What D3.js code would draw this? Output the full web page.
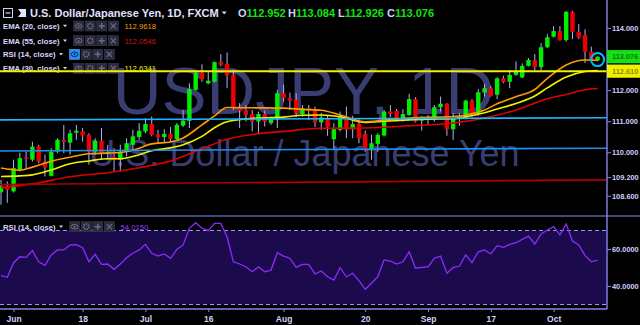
<!DOCTYPE html>
<html>
<head>
<meta charset="utf-8">
<script src="https://cdn.jsdelivr.net/npm/d3@7"></script>
<style>
    html, body { margin: 0; padding: 0; background: #000; }
    svg { display: block; }
    text { font-family: "Liberation Sans", Arial, sans-serif; }
</style>
</head>
<body>
<svg id="chart"></svg>
<script>
// ---- data (USD/JPY daily, FXCM) ----
const firstDay = new Date(2018, 4, 30);
const lastDay = new Date(2018, 9, 10);

const opens = [108.71, 108.87, 108.74, 109.43, 109.83, 109.76, 110.18, 109.70, 109.24, 110.02,
    110.40, 110.31, 110.63, 110.67, 110.56, 110.02, 110.37, 109.98, 109.86, 109.76,
    110.02, 110.24, 110.49, 110.67, 110.91, 110.58, 110.49, 110.59, 110.42, 110.86,
    111.01, 112.01, 112.56, 112.22, 112.27, 112.90, 112.84, 112.49, 111.42, 111.36,
    111.23, 110.99, 111.23, 110.94, 111.06, 111.90, 111.74, 111.69, 111.23, 111.42,
    111.39, 110.96, 111.10, 110.42, 110.72, 111.13, 110.74, 110.91, 110.59, 110.06,
    110.27, 110.54, 111.31, 111.33, 111.06, 111.20, 111.71, 111.02, 111.10, 111.04,
    111.45, 111.56, 110.74, 111.10, 111.10, 111.66, 111.23, 111.92, 112.06, 111.85,
    112.38, 112.27, 112.49, 112.41, 112.78, 112.97, 112.74, 113.38, 113.72, 113.90,
    113.61, 114.52, 113.88, 113.77, 113.24, 112.952];
const highs = [109.11, 109.06, 109.76, 109.98, 110.02, 110.34, 110.24, 109.92, 110.13, 110.45,
    110.88, 110.72, 110.88, 110.78, 110.61, 110.45, 110.78, 110.24, 110.13, 110.24,
    110.45, 110.72, 110.94, 111.10, 111.15, 110.72, 110.74, 110.81, 110.94, 111.36,
    112.22, 112.65, 112.83, 112.60, 112.92, 113.16, 113.21, 112.65, 111.58, 111.52,
    111.36, 111.31, 111.34, 111.15, 112.01, 112.17, 111.92, 111.90, 111.52, 111.52,
    111.47, 111.26, 111.20, 110.94, 111.31, 111.47, 111.17, 111.06, 110.70, 110.56,
    110.61, 111.36, 111.52, 111.39, 111.39, 111.88, 111.77, 111.17, 111.20, 111.52,
    111.79, 111.58, 111.26, 111.26, 111.69, 111.71, 112.03, 112.20, 112.14, 112.41,
    112.46, 112.65, 112.92, 112.86, 113.03, 113.16, 113.51, 113.80, 114.06, 114.06,
    114.55, 114.55, 114.13, 113.96, 113.40, 113.084];
const lows = [108.31, 108.37, 108.70, 109.38, 109.49, 109.70, 109.65, 109.22, 109.22, 109.97,
    109.97, 109.92, 110.40, 110.34, 109.60, 109.92, 109.76, 109.76, 109.38, 109.38,
    109.86, 110.08, 110.40, 110.61, 110.51, 110.29, 110.29, 110.34, 110.40, 110.81,
    110.78, 111.98, 112.27, 112.19, 112.25, 112.76, 112.06, 111.36, 110.78, 110.99,
    110.67, 110.61, 110.83, 110.88, 110.78, 111.63, 111.36, 111.13, 111.15, 111.04,
    110.81, 110.72, 110.53, 110.10, 110.67, 110.45, 110.45, 110.29, 110.02, 109.76,
    110.02, 110.51, 111.13, 110.99, 110.99, 111.17, 110.96, 110.70, 110.88, 110.99,
    111.31, 110.53, 110.40, 110.85, 111.06, 111.15, 111.17, 111.79, 111.79, 111.71,
    112.22, 112.06, 112.46, 112.38, 112.76, 112.63, 112.63, 113.35, 113.69, 113.59,
    113.56, 113.64, 113.64, 112.87, 112.88, 112.926];
const closes = [108.90, 108.79, 109.49, 109.81, 109.78, 110.18, 109.70, 109.51, 110.02, 110.40,
    110.33, 110.61, 110.69, 110.54, 110.02, 110.37, 109.97, 110.01, 109.76, 110.02,
    110.29, 110.51, 110.69, 110.91, 110.56, 110.49, 110.59, 110.43, 110.88, 111.02,
    112.03, 112.56, 112.35, 112.30, 112.90, 112.81, 112.47, 111.42, 111.34, 111.20,
    110.99, 111.23, 110.99, 111.07, 111.90, 111.74, 111.66, 111.26, 111.42, 111.34,
    110.96, 111.12, 110.81, 110.74, 111.13, 110.74, 110.91, 110.45, 110.06, 110.29,
    110.56, 111.31, 111.23, 111.07, 111.23, 111.71, 110.99, 111.06, 111.04, 111.45,
    111.56, 110.74, 111.10, 111.15, 111.66, 111.23, 111.93, 112.06, 111.81, 112.38,
    112.26, 112.49, 112.60, 112.78, 112.97, 112.74, 113.38, 113.70, 113.90, 113.61,
    114.52, 113.88, 113.70, 113.24, 112.97, 113.076];

// EMA values read at sample sessions (index into the session list)
const emaSampleIdx = [0, 3, 5, 8, 11, 14, 17, 19, 22, 24, 27, 29, 32, 34, 36, 40, 45,
    48, 51, 54, 58, 61, 65, 69, 72, 74, 77, 79, 82, 85, 87, 90, 93, 95];
const ema20 = [109.49, 109.42, 109.52, 109.71, 109.84, 109.95, 109.97, 109.99, 110.13, 110.27,
    110.33, 110.46, 110.88, 111.17, 111.44, 111.43, 111.42, 111.38, 111.35, 111.20,
    110.98, 111.03, 111.10, 111.13, 111.15, 111.20, 111.36, 111.56, 111.79, 112.02,
    112.38, 112.81, 112.97, 112.96];
const ema30 = [109.22, 109.24, 109.27, 109.43, 109.63, 109.72, 109.79, 109.79, 109.92, 110.05,
    110.14, 110.24, 110.51, 110.79, 110.98, 111.09, 111.13, 111.19, 111.20, 111.14,
    110.96, 111.00, 111.04, 111.07, 111.08, 111.14, 111.27, 111.39, 111.57, 111.81,
    112.07, 112.42, 112.60, 112.63];
const ema55SampleIdx = [0, 5, 11, 17, 22, 27, 32, 36, 40, 45, 51, 58, 65, 72, 77, 82, 87, 90, 93, 95];
const ema55 = [108.86, 108.98, 109.21, 109.34, 109.50, 109.72, 110.11, 110.42, 110.57, 110.67,
    110.77, 110.78, 110.85, 110.94, 111.10, 111.36, 111.72, 111.86, 112.01, 112.05];

const rsi14 = [45.6, 44.7, 52.6, 55.8, 55.5, 59.1, 53.1, 51.2, 56.8, 59.5,
    59.5, 62.2, 62.3, 60.7, 53.1, 57.1, 51.7, 51.9, 49.0, 51.9,
    55.3, 57.7, 59.5, 62.5, 57.7, 56.2, 57.3, 55.0, 59.8, 62.2,
    71.2, 74.2, 71.2, 69.9, 73.9, 73.9, 66.6, 53.1, 51.9, 50.4,
    47.7, 50.4, 47.7, 48.6, 58.0, 56.2, 55.0, 50.1, 51.7, 51.7,
    46.5, 48.1, 45.0, 43.2, 49.9, 45.0, 46.9, 42.9, 38.2, 41.5,
    45.0, 54.1, 53.5, 51.9, 53.1, 58.5, 49.6, 50.1, 50.4, 55.0,
    56.2, 46.9, 49.9, 50.8, 56.8, 52.6, 58.5, 59.5, 57.3, 61.8,
    60.9, 62.5, 63.4, 65.2, 67.0, 62.7, 68.1, 70.3, 72.1, 67.6,
    73.5, 64.3, 62.2, 56.4, 53.1, 54.0];

// drawn horizontal / trend lines (price at left edge, price at right edge)
const levelNames = ["yellow", "cyan", "blue", "darkred"];
const levelStart = [112.61, 111.04, 110.04, 108.96];
const levelEnd = [112.61, 111.11, 110.13, 109.11];

const priceTicks = [114, 112, 111, 110, 109.2, 108.6];
const rsiTicks = [60, 40];
const rsiBands = [70, 30];
const tickDays = ["2018-06-01", "2018-06-18", "2018-07-02", "2018-07-16", "2018-08-01",
    "2018-08-20", "2018-09-03", "2018-09-17", "2018-10-01"];
const tickLabels = ["Jun", "18", "Jul", "16", "Aug", "20", "Sep", "17", "Oct"];

const legendNames = ["EMA (20, close)", "EMA (55, close)", "RSI (14, close)", "EMA (30, close)"];
const legendValues = ["112.9618", "112.0546", "", "112.6341"];
const rsiLegendValue = "54.0150";
const symbolTitle = "U.S. Dollar/Japanese Yen, 1D, FXCM";
const watermarkTitle = "USDJPY, 1D";
const watermarkSub = "U.S. Dollar / Japanese Yen";

const fmtDay = d3.timeFormat("%Y-%m-%d");
const days = d3.timeDay.range(firstDay, d3.timeDay.offset(lastDay, 1))
    .filter(d => d.getDay() !== 0 && d.getDay() !== 6)
    .map(fmtDay);

class CandleChart {
    constructor(config, data) {
        this.config = {
            parent: config.parent,
            width: config.width || 640,
            height: config.height || 325,
            axisX: config.axisX || 607,
            mainBottom: config.mainBottom || 215,
            rsiTop: config.rsiTop || 216,
            rsiBottom: config.rsiBottom || 309,
            bodyWidth: config.bodyWidth || 4.4
        };
        this.data = data;
        this.colors = {
            up: "#00ee00", down: "#ee0000", wick: "#aeb0ff",
            ema20: "#ff9a00", ema30: "#f2f200", ema55: "#e00000",
            yellow: "#f0f000", cyan: "#1eb4ff", blue: "#1e90f0", darkred: "#b00000",
            axis: "#8484ea", label: "#cfd0ff", watermark: "#3a3d72",
            rsi: "#8a2cff", band: "#1c0b4c", dash: "#9c90ff"
        };
        this.init();
    }

    init() {
        let self = this;
        const c = self.config;

        self.svg = d3.select(c.parent)
            .attr('width', c.width)
            .attr('height', c.height);

        self.xscale = d3.scalePoint()
            .domain(days)
            .range([1, 597.6]);

        self.yscale = d3.scaleLinear()
            .domain([107.979, 114.901])
            .range([c.mainBottom, 0]);

        self.rscale = d3.scaleLinear()
            .domain([27.57, 77.84])
            .range([c.rsiBottom, c.rsiTop]);

        const defs = self.svg.append('defs');
        defs.append('clipPath').attr('id', 'clip-main')
            .append('rect').attr('x', 0).attr('y', 0)
            .attr('width', c.axisX).attr('height', c.mainBottom);
        defs.append('clipPath').attr('id', 'clip-rsi')
            .append('rect').attr('x', 0).attr('y', c.rsiTop)
            .attr('width', c.axisX).attr('height', c.rsiBottom - c.rsiTop);
    }

    render() {
        let self = this;
        const c = self.config, col = self.colors;
        const x = d => self.xscale(d);

        self.svg.append('rect')
            .attr('width', c.width).attr('height', c.height)
            .attr('fill', '#000');

        // watermark
        const mid = c.axisX / 2;
        self.svg.append('text')
            .attr('x', mid).attr('y', 114)
            .attr('text-anchor', 'middle')
            .attr('font-size', 67.5)
            .attr('fill', col.watermark)
            .text(watermarkTitle);
        self.svg.append('text')
            .attr('x', mid + 1).attr('y', 166)
            .attr('text-anchor', 'middle')
            .attr('font-size', 36)
            .attr('fill', col.watermark)
            .text(watermarkSub);

        self.renderLegend();

        // candles
        const main = self.svg.append('g').attr('clip-path', 'url(#clip-main)');
        const candles = main.selectAll('.candle')
            .data(self.data)
            .join('g')
            .attr('class', 'candle');
        candles.append('line')
            .attr('x1', d => x(d.date)).attr('x2', d => x(d.date))
            .attr('y1', d => self.yscale(d.h)).attr('y2', d => self.yscale(d.l))
            .attr('stroke', col.wick).attr('stroke-width', 1);
        candles.append('rect')
            .attr('x', d => x(d.date) - c.bodyWidth / 2)
            .attr('width', c.bodyWidth)
            .attr('y', d => self.yscale(Math.max(d.o, d.c)))
            .attr('height', d => Math.max(1.2, Math.abs(self.yscale(d.o) - self.yscale(d.c))))
            .attr('fill', d => d.c >= d.o ? col.up : col.down);

        // moving averages
        const emaLine = d3.line()
            .x(d => x(days[d[0]]))
            .y(d => self.yscale(d[1]))
            .curve(d3.curveMonotoneX);
        [[ema55SampleIdx, ema55, col.ema55], [emaSampleIdx, ema30, col.ema30], [emaSampleIdx, ema20, col.ema20]]
            .forEach(([idx, vals, color]) => {
                main.append('path')
                    .datum(idx.map((k, i) => [k, vals[i]]))
                    .attr('d', emaLine)
                    .attr('fill', 'none')
                    .attr('stroke', color)
                    .attr('stroke-width', 1.6);
            });

        // drawn levels
        main.selectAll('.level')
            .data(levelNames)
            .join('line')
            .attr('class', 'level')
            .attr('x1', 0).attr('x2', c.axisX)
            .attr('y1', (d, i) => self.yscale(levelStart[i]))
            .attr('y2', (d, i) => self.yscale(levelEnd[i]))
            .attr('stroke', d => col[d])
            .attr('stroke-width', (d, i) => i === 0 ? 2 : 1.6);

        // circle marker on last session
        const last = self.data[self.data.length - 1];
        main.append('circle')
            .attr('cx', x(last.date)).attr('cy', self.yscale((last.o + last.c) / 2) + 1)
            .attr('r', 6.5)
            .attr('fill', 'none')
            .attr('stroke', '#00b8ff')
            .attr('stroke-width', 2);

        self.renderRsi();
        self.renderAxes(last);
    }

    renderLegend() {
        let self = this;
        const col = self.colors;

        // header row
        const head = self.svg.append('g');
        head.append('rect').attr('x', 3.5).attr('y', 8.5).attr('width', 9).attr('height', 9)
            .attr('fill', 'none').attr('stroke', col.label).attr('stroke-width', 1);
        head.append('line').attr('x1', 5.5).attr('x2', 10.5).attr('y1', 13).attr('y2', 13)
            .attr('stroke', col.label).attr('stroke-width', 1.2);
        head.append('path').attr('d', 'M18,9 H26 V17 H18 L21,13 Z').attr('fill', '#e4e4ff');
        const title = head.append('text')
            .attr('x', 30).attr('y', 17.3)
            .attr('font-size', 11).attr('font-weight', 'bold')
            .attr('fill', '#e0e0ff')
            .text(symbolTitle);
        const tEnd = 30 + title.node().getComputedTextLength();
        head.append('path')
            .attr('d', `M${tEnd + 3},11.5 h5 l-2.5,3 z`)
            .attr('fill', col.label);

        const ohlc = [["O", b => b.o, 238], ["H", b => b.h, 288], ["L", b => b.l, 338], ["C", b => b.c, 387]];
        const lastBar = self.data[self.data.length - 1];
        ohlc.forEach(([k, f, px]) => {
            const t = head.append('text')
                .attr('x', px).attr('y', 17.3)
                .attr('font-size', 11).attr('font-weight', 'bold');
            t.append('tspan').attr('fill', col.label).text(k);
            t.append('tspan').attr('fill', '#12e212').text(d3.format('.3f')(f(lastBar)));
        });

        const valueColors = [col.ema20, "#d01010", null, col.ema30];
        const rows = [26, 40.7, 54.3, 68.3];
        legendNames.forEach((name, i) => {
            self.legendRow(3, rows[i], name, legendValues[i], valueColors[i], i === 2);
        });
    }

    legendRow(x0, cy, name, value, valueColor, active) {
        let self = this;
        const col = self.colors;
        const g = self.svg.append('g');
        const t = g.append('text')
            .attr('x', x0).attr('y', cy + 2.8)
            .attr('font-size', 7.7).attr('font-weight', 'bold')
            .attr('fill', '#d8d8ff')
            .text(name);
        const end = x0 + t.node().getComputedTextLength();
        g.append('path')
            .attr('d', `M${end + 3.5},${cy - 1.2} h4 l-2,2.5 z`)
            .attr('fill', col.label);
        const bx = end + 14;
        for (let k = 0; k < 4; k++) {
            const left = bx + k * 11.6;
            const on = active && k === 0;
            g.append('rect')
                .attr('x', left).attr('y', cy - 5)
                .attr('width', 10).attr('height', 10)
                .attr('fill', on ? '#2a8cf2' : '#2a2a3c')
                .attr('stroke', on ? '#49a6ff' : '#3a3a52').attr('stroke-width', 0.6);
            const gc = on ? '#0c2c66' : '#6c6c88', cx = left + 5;
            if (k === 0) {
                g.append('ellipse').attr('cx', cx).attr('cy', cy).attr('rx', 3.4).attr('ry', 2.3)
                    .attr('fill', 'none').attr('stroke', gc).attr('stroke-width', 1);
                g.append('circle').attr('cx', cx).attr('cy', cy).attr('r', 1).attr('fill', gc);
            } else if (k === 1) {
                g.append('circle').attr('cx', cx).attr('cy', cy).attr('r', 2.6)
                    .attr('fill', 'none').attr('stroke', gc).attr('stroke-width', 1.6)
                    .attr('stroke-dasharray', '1.4,0.9');
            } else if (k === 2) {
                g.append('path').attr('d', `M${cx - 3},${cy} h6 M${cx},${cy - 3} v6`)
                    .attr('stroke', gc).attr('stroke-width', 1.4);
            } else {
                g.append('path').attr('d', `M${cx - 2.6},${cy - 2.6} l5.2,5.2 M${cx + 2.6},${cy - 2.6} l-5.2,5.2`)
                    .attr('stroke', gc).attr('stroke-width', 1.2);
            }
        }
        if (value) {
            g.append('text')
                .attr('x', bx + 51).attr('y', cy + 2.8)
                .attr('font-size', 7.7)
                .attr('fill', valueColor)
                .text(value);
        }
    }

    renderRsi() {
        let self = this;
        const c = self.config, col = self.colors;
        const g = self.svg.append('g').attr('clip-path', 'url(#clip-rsi)');

        g.append('rect')
            .attr('x', 0).attr('width', c.axisX)
            .attr('y', self.rscale(rsiBands[0]))
            .attr('height', self.rscale(rsiBands[1]) - self.rscale(rsiBands[0]))
            .attr('fill', col.band);

        g.selectAll('.band-line')
            .data(rsiBands)
            .join('line')
            .attr('class', 'band-line')
            .attr('x1', 0).attr('x2', c.axisX)
            .attr('y1', d => self.rscale(d)).attr('y2', d => self.rscale(d))
            .attr('stroke', col.dash).attr('stroke-width', 1.2)
            .attr('stroke-dasharray', '4,3');

        g.append('path')
            .datum(rsi14)
            .attr('d', d3.line().x((d, i) => self.xscale(days[i])).y(d => self.rscale(d)))
            .attr('fill', 'none')
            .attr('stroke', col.rsi)
            .attr('stroke-width', 1.3);

        // RSI pane legend, same layout as the main rows
        self.legendRow(3, 226.7, legendNames[2], rsiLegendValue, '#9a3cff', false);
    }

    renderAxes(last) {
        let self = this;
        const c = self.config, col = self.colors;

        // pane separator, axis lines
        self.svg.append('line')
            .attr('x1', 0).attr('x2', c.width)
            .attr('y1', c.rsiTop).attr('y2', c.rsiTop)
            .attr('stroke', '#5c5ca0').attr('stroke-width', 1.6);
        self.svg.append('line')
            .attr('x1', c.axisX).attr('x2', c.axisX)
            .attr('y1', 0).attr('y2', c.rsiBottom)
            .attr('stroke', col.axis).attr('stroke-width', 1.4);
        self.svg.append('line')
            .attr('x1', 0).attr('x2', c.axisX)
            .attr('y1', c.rsiBottom).attr('y2', c.rsiBottom)
            .attr('stroke', col.axis).attr('stroke-width', 1.4);

        const styleAxis = (g, size) => {
            g.select('.domain').remove();
            g.selectAll('line').attr('stroke', col.axis);
            g.selectAll('text')
                .attr('fill', col.label)
                .attr('font-size', size)
                .attr('font-weight', 'bold')
                .attr('font-family', '"Liberation Sans", Arial, sans-serif');
        };

        self.svg.append('g')
            .attr('transform', `translate(${c.axisX}, 0)`)
            .call(d3.axisRight(self.yscale).tickValues(priceTicks)
                .tickFormat(d3.format('.3f')).tickSize(4).tickPadding(1))
            .call(g => styleAxis(g, 7.4));

        self.svg.append('g')
            .attr('transform', `translate(${c.axisX}, 0)`)
            .call(d3.axisRight(self.rscale).tickValues(rsiTicks)
                .tickFormat(d3.format('.4f')).tickSize(4).tickPadding(1))
            .call(g => styleAxis(g, 7.4));

        self.svg.append('g')
            .attr('transform', `translate(0, ${c.rsiBottom})`)
            .call(d3.axisBottom(self.xscale).tickValues(tickDays)
                .tickFormat((d, i) => tickLabels[i]).tickSize(3).tickPadding(4))
            .call(g => styleAxis(g, 8.5));

        // price flags
        const flags = [
            { v: levelEnd[0], bg: '#f0f000', fg: '#8c8c00' },
            { v: last.c, bg: '#16e016', fg: '#0a7c0a' }
        ];
        flags.forEach(f => {
            const y = self.yscale(f.v);
            self.svg.append('rect')
                .attr('x', c.axisX).attr('y', y - 6.6)
                .attr('width', c.width - c.axisX).attr('height', 13.2)
                .attr('fill', f.bg);
            self.svg.append('text')
                .attr('x', c.axisX + 5).attr('y', y + 2.7)
                .attr('font-size', 7.4).attr('font-weight', 'bold')
                .attr('fill', f.fg)
                .text(d3.format('.3f')(f.v));
        });
    }
}

const candleData = days.map((d, i) => ({ date: d, o: opens[i], h: highs[i], l: lows[i], c: closes[i] }));
const chart = new CandleChart({ parent: '#chart', width: 640, height: 325 }, candleData);
chart.render();
</script>
</body>
</html>
